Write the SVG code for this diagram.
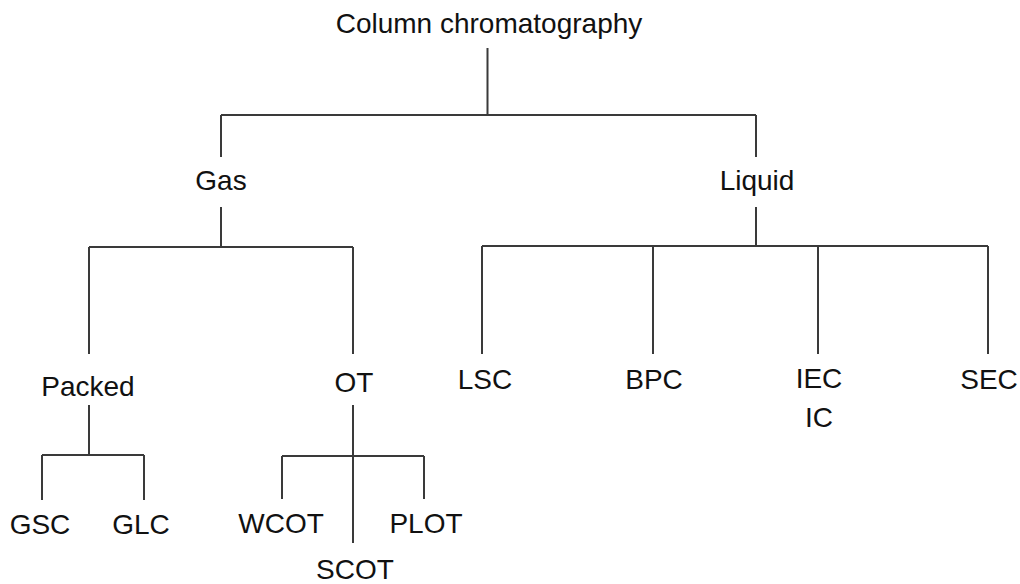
<svg xmlns="http://www.w3.org/2000/svg" width="1020" height="584" viewBox="0 0 1020 584">
<style>
.t{font-family:"Liberation Sans",Arial,Helvetica,sans-serif;font-size:28px;fill:#111;text-anchor:middle}
.c{stroke:#3a3a3a;stroke-width:2;fill:none}
</style>
<rect width="1020" height="584" fill="#fff"/>
<g id="connectors" class="c">
<path d="M487.5 48V115M221 115H756M221 115V157M756 115V157"/>
<path d="M221 207V247M89 247H353M89 247V354M353 247V354"/>
<path d="M756 207V246M482 246H988M482 246V354M653 246V354M818 246V354M988 246V354"/>
<path d="M89 405V455M42 455H144M42 455V500M144 455V500"/>
<path d="M353 405V543M282 456H424M282 456V499M424 456V499"/>
</g>
<g id="n-root"><text class="t" x="489" y="33">Column chromatography</text></g>
<g id="n-gas"><text class="t" x="221" y="190">Gas</text></g>
<g id="n-liquid"><text class="t" x="757" y="190">Liquid</text></g>
<g id="n-packed"><text class="t" x="88" y="396">Packed</text></g>
<g id="n-ot"><text class="t" x="354" y="392">OT</text></g>
<g id="n-lsc"><text class="t" x="485" y="389">LSC</text></g>
<g id="n-bpc"><text class="t" x="654" y="389">BPC</text></g>
<g id="n-iec"><text class="t" x="819" y="388">IEC</text><text class="t" x="819" y="427">IC</text></g>
<g id="n-sec"><text class="t" x="989" y="389">SEC</text></g>
<g id="n-gsc"><text class="t" x="40" y="534">GSC</text></g>
<g id="n-glc"><text class="t" x="141" y="534">GLC</text></g>
<g id="n-wcot"><text class="t" x="281" y="533">WCOT</text></g>
<g id="n-plot"><text class="t" x="426" y="533">PLOT</text></g>
<g id="n-scot"><text class="t" x="355" y="579">SCOT</text></g>
</svg>
